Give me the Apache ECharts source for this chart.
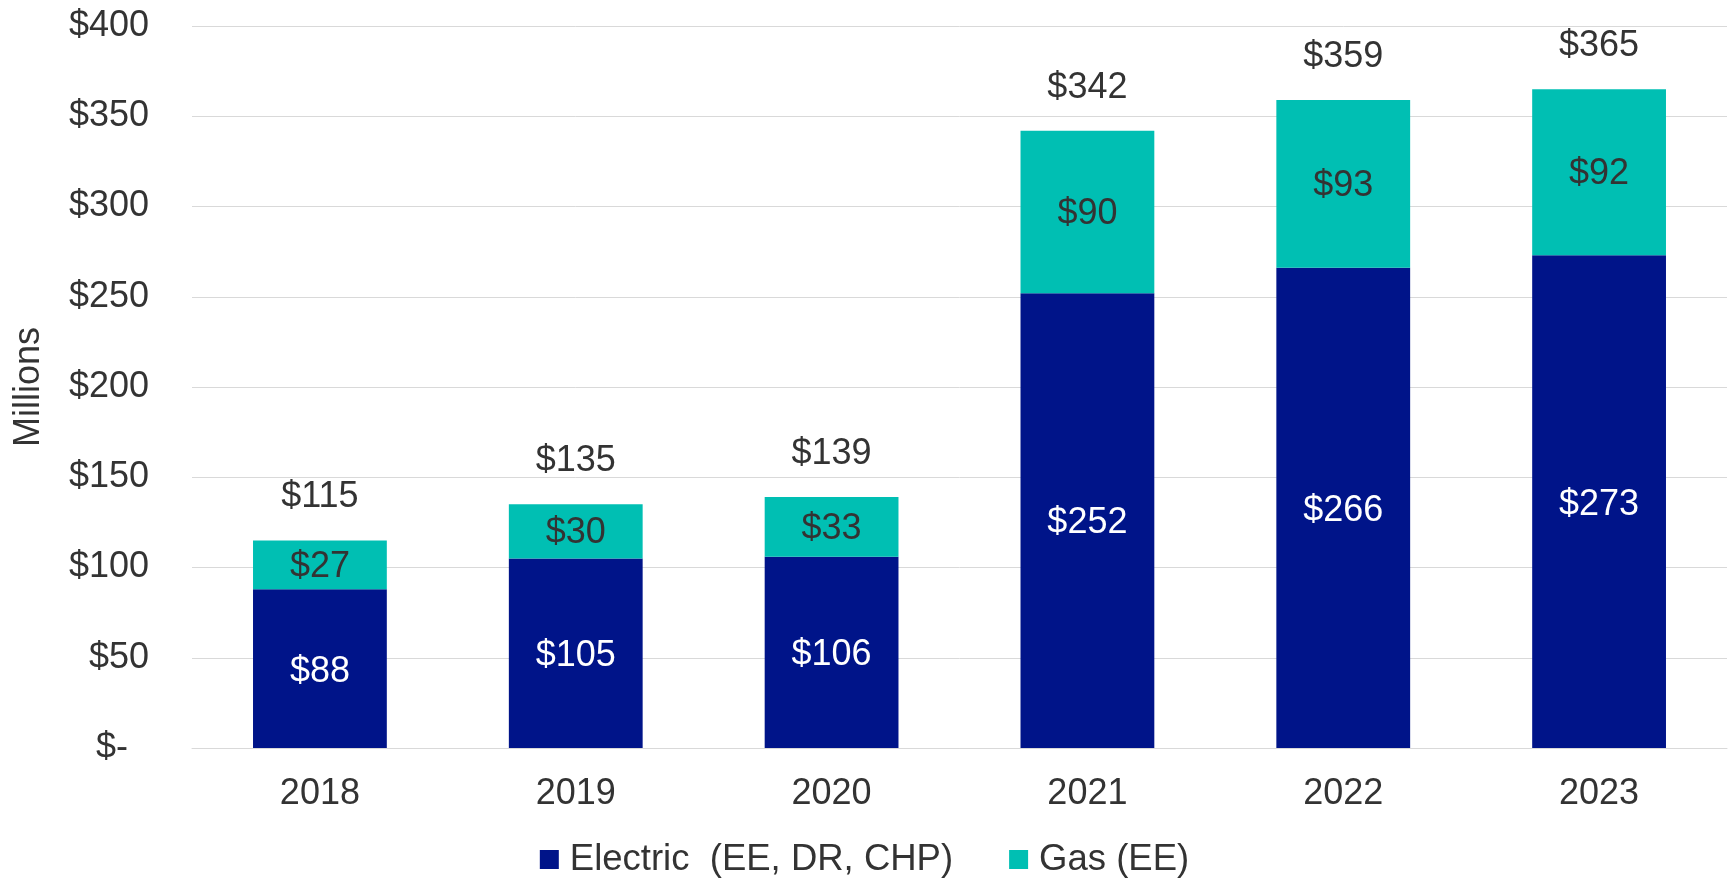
<!DOCTYPE html>
<html>
<head>
<meta charset="utf-8">
<script src="https://cdn.jsdelivr.net/npm/echarts@6/dist/echarts.min.js"></script>
<style>
html,body{margin:0;padding:0;background:#fff;}
#chart{width:1729px;height:878px;}
</style>
</head>
<body>
<div id="chart"></div>
<script>
var categories = ['2018', '2019', '2020', '2021', '2022', '2023'];
var electric = [88, 105, 106, 252, 266, 273];
var gas = [27, 30, 33, 90, 93, 92];
var totals = [115, 135, 139, 342, 359, 365];
var seriesNames = ['Electric  (EE, DR, CHP)', 'Gas (EE)'];
var yTicks = { min: 0, max: 400, interval: 50 };

var FONT = '"Liberation Sans", Arial, sans-serif';
var TXT = '#333333';

var chart = echarts.init(document.getElementById('chart'), null, { renderer: 'canvas' });

var option = {
  backgroundColor: '#ffffff',
  animation: false,
  textStyle: { fontFamily: FONT },
  grid: { left: 192, right: 2, top: 26, bottom: 130, containLabel: false },
  legend: {
    data: seriesNames,
    left: 'center',
    top: 836,
    itemWidth: 19,
    itemHeight: 19,
    itemGap: 56,
    icon: 'rect',
    textStyle: { fontFamily: FONT, fontSize: 36.5, color: TXT, padding: [0, 0, 0, 6] }
  },
  xAxis: {
    type: 'category',
    data: categories,
    axisLine: { show: true, lineStyle: { color: '#d9d9d9', width: 1 } },
    axisTick: { show: false },
    axisLabel: { fontFamily: FONT, fontSize: 36, color: TXT, margin: 28 }
  },
  yAxis: {
    type: 'value',
    min: yTicks.min,
    max: yTicks.max,
    interval: yTicks.interval,
    name: 'Millions',
    nameLocation: 'middle',
    nameRotate: 90,
    nameGap: 145,
    nameTextStyle: { fontFamily: FONT, fontSize: 36, color: TXT },
    axisLine: { show: false },
    axisTick: { show: false },
    splitLine: { show: true, lineStyle: { color: '#d9d9d9', width: 1 } },
    axisLabel: {
      fontFamily: FONT, fontSize: 36, color: TXT, margin: 43,
      formatter: function (v) { return v === 0 ? '{z|$-}' : '$' + v; },
      rich: { z: { fontFamily: FONT, fontSize: 36, color: TXT, padding: [0, 21, 0, 0] } }
    }
  },
  series: [
    {
      name: seriesNames[0],
      type: 'bar',
      stack: 'total',
      data: electric,
      barWidth: '52.3%',
      itemStyle: { color: '#001489' },
      label: {
        show: true, position: 'inside', offset: [0, 3], fontFamily: FONT, fontSize: 36, color: '#ffffff',
        formatter: function (p) { return '$' + p.value; }
      }
    },
    {
      name: seriesNames[1],
      type: 'bar',
      stack: 'total',
      data: gas,
      barWidth: '52.3%',
      itemStyle: { color: '#00BFB3' },
      label: {
        show: true, position: 'inside', offset: [0, 2], fontFamily: FONT, fontSize: 36, color: TXT,
        formatter: function (p) { return '$' + p.value; }
      }
    },
    {
      name: 'Total',
      type: 'scatter',
      data: totals,
      symbolSize: 0,
      silent: true,
      itemStyle: { opacity: 1 },
      label: {
        show: true, position: 'top', distance: 25, fontFamily: FONT, fontSize: 36, color: TXT, opacity: 1,
        formatter: function (p) { return '$' + p.value; }
      }
    }
  ]
};

chart.setOption(option);
</script>
</body>
</html>
